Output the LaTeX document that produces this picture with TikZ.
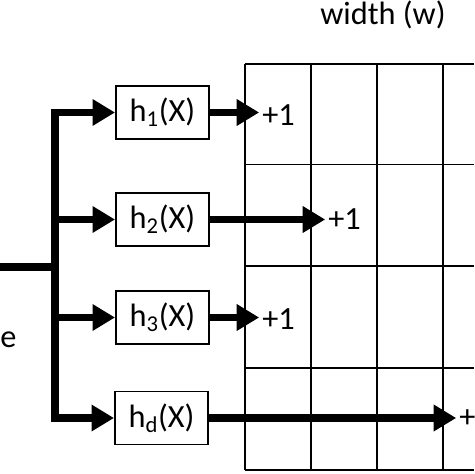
\documentclass[tikz,border=0pt]{standalone}
\usepackage{fontspec}
\setmainfont{Carlito}
\usepackage{tikz}
\usetikzlibrary{arrows.meta}

\tikzset{
  hashbox/.style={draw, line width=1.4pt, minimum width=9.3*0.25cm, minimum height=5.3*0.25cm, inner sep=0pt},
  fat/.style={line width=5.6pt},
  fatarrow/.style={fat, -{Triangle[length=16pt,width=18pt]}},
  cell/.style={line width=1.4pt},
  inc/.style={inner sep=0pt, anchor=west}
}

\begin{document}
\begin{tikzpicture}[x=0.25cm, y=0.25cm, font=\fontsize{23}{27}\selectfont]
\useasboundingbox (0,0) rectangle (47.4,47.4);
% sketch table
\foreach \x in {24.5,31.1,37.7,44.3}
  \draw [cell] (\x,0.4) -- (\x,41.0);
\foreach \y in {0.4,10.6,20.8,30.95,41.0}
  \draw [cell] (24.5,\y) -- (47.4,\y);
\node (w) at (38.3,45.9) {width (w)};
% hash functions
\node [hashbox] (h1) at (16.25,36.15) {h\textsubscript{1}(X)};
\node [hashbox] (h2) at (16.25,25.45) {h\textsubscript{2}(X)};
\node [hashbox] (h3) at (16.25,15.65) {h\textsubscript{3}(X)};
\node [hashbox] (hd) at (16.15,5.6) {h\textsubscript{d}(X)};
% counters
\node [inc] (p1) at (26.2,35.9) {+1};
\node [inc] (p2) at (32.8,25.5) {+1};
\node [inc] (p3) at (26.2,15.5) {+1};
\node [inc] (pd) at (45.9,5.5) {+};
\node [inc] (e) at (0,13.4) {e};
% input and branches
\coordinate (in) at (0,20.7);
\coordinate (sp) at (5.5,20.7);
\coordinate (t1) at (5.5,36.15);
\coordinate (t2) at (5.5,25.45);
\coordinate (t3) at (5.5,15.65);
\coordinate (td) at (5.5,5.6);
\draw [fat] (in) -- (sp);
\draw [fat] ([yshift=2.8pt]t1) -- ([yshift=-2.8pt]td);
\draw [fatarrow] (t1) -- (h1.west);
\draw [fatarrow] (t2) -- (h2.west);
\draw [fatarrow] (t3) -- (h3.west);
\draw [fatarrow] (td) -- (hd.west);
\draw [fatarrow] (h1.east) -- ([xshift=-2pt]p1.west |- h1.east);
\draw [fatarrow] (h2.east) -- ([xshift=-2pt]p2.west |- h2.east);
\draw [fatarrow] (h3.east) -- ([xshift=-2pt]p3.west |- h3.east);
\draw [fatarrow] (hd.east) -- ([xshift=-2pt]pd.west |- hd.east);
\end{tikzpicture}
\end{document}
